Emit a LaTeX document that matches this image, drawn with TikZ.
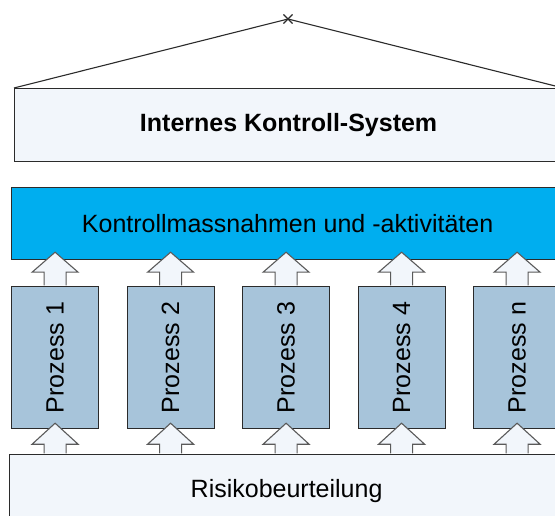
\documentclass[tikz,border=0pt]{standalone}
\usepackage{fontspec}
\setmainfont{Liberation Sans}
\usetikzlibrary{shapes.misc, calc, positioning}
\definecolor{mBorder}{HTML}{2B2B2B}
\definecolor{mLight}{HTML}{F2F6FB}
\definecolor{mCyan}{HTML}{00AEEF}
\definecolor{mProc}{HTML}{A7C4DA}
\definecolor{mArrow}{HTML}{5A5A5A}

\begin{document}
\begin{tikzpicture}[x=1pt, y=-1pt,
    box/.style={rectangle, draw=mBorder, line width=1.2pt, anchor=north west, inner sep=0pt, font=\fontsize{25}{29}\selectfont},
    proc/.style={box, fill=mProc, minimum width=87pt, minimum height=142pt},
    uparrow/.style={draw=mArrow, fill=mLight, line width=1.1pt, line join=miter},
    roof/.style={draw=mBorder, line width=1.1pt}
]
    \clip (0,0) rectangle (555,516);

    % Dach
    \node[draw=mBorder, cross out, line width=1.1pt, minimum size=8pt, inner sep=0pt] (apex) at (288,19) {};
    \node[box, fill=mLight, minimum width=548pt, minimum height=73pt, font=\fontsize{25}{29}\selectfont\bfseries] (iks) at (14,88) {Internes Kontroll-System};
    \draw[roof] (iks.north west) -- (apex.center) -- (iks.north east);

    \node[box, fill=mCyan, minimum width=552pt, minimum height=72pt] (kontroll) at (11,187) {Kontrollmassnahmen und -aktivitäten};
    \node[box, fill=mLight, minimum width=554pt, minimum height=72pt] (risiko) at (9,454) {Risikobeurteilung};

    % Prozesse
    \foreach \i/\lbl in {1/1,2/2,3/3,4/4,5/n} {
        \node[proc] (p\i) at ({11+115.5*(\i-1)},286) {};
        \node[rotate=90, font=\fontsize{25}{29}\selectfont] (t\i) at (p\i.center) {Prozess \lbl};
    }

    % Pfeile
    \foreach \i in {1,...,5} {
        \coordinate (up\i) at ($(p\i.north |- kontroll.south)+(0,-8)$);
        \draw[uparrow] ($(p\i.north)+(-11,-0.6)$) |- ($(up\i)+(-23,20)$) -- (up\i) -- ($(up\i)+(23,20)$) -| ($(p\i.north)+(11,-0.6)$);
        \coordinate (lo\i) at ($(p\i.south)+(0,-6)$);
        \draw[uparrow] ($(p\i.south |- risiko.north)+(-11,-0.6)$) |- ($(lo\i)+(-23,21)$) -- (lo\i) -- ($(lo\i)+(23,21)$) -| ($(p\i.south |- risiko.north)+(11,-0.6)$);
    }
\end{tikzpicture}
\end{document}
